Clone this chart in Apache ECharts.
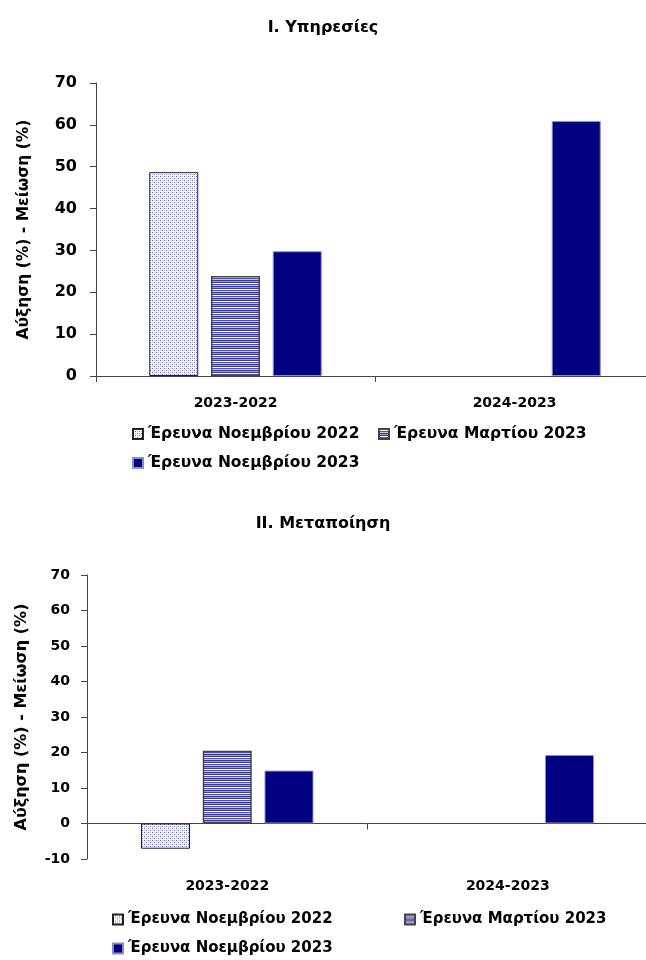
<!DOCTYPE html>
<html>
<head>
<meta charset="utf-8">
<title>Υπηρεσίες - Μεταποίηση</title>
<script src="https://cdn.jsdelivr.net/npm/echarts@6/dist/echarts.min.js"></script>
<style>
  html, body { margin: 0; padding: 0; background: #fff; }
  .chartBox { width: 646px; height: 480px; }
</style>
</head>
<body>
<div id="chart1" class="chartBox"></div>
<div id="chart2" class="chartBox"></div>
<script>
// data
var categories = ['2023-2022', '2024-2023'];
var seriesNames = ['Έρευνα Νοεμβρίου 2022', 'Έρευνα Μαρτίου 2023', 'Έρευνα Νοεμβρίου 2023'];
var yName = 'Αύξηση (%) - Μείωση (%)';

var titleServices = 'I. Υπηρεσίες';
var servNov22 = [48.7, null];
var servMar23 = [23.9, null];
var servNov23 = [29.8, 60.9];

var titleManuf = 'II. Μεταποίηση';
var manNov22 = [-7.1, null];
var manMar23 = [20.5, null];
var manNov23 = [14.9, 19.3];

var FONT = '"DejaVu Sans", sans-serif';

// fill patterns like the excel ones
function dotPattern() {
  var c = document.createElement('canvas');
  c.width = 4; c.height = 4;
  var g = c.getContext('2d');
  g.fillStyle = '#ffffff';
  g.fillRect(0, 0, 4, 4);
  g.fillStyle = '#6a6ac4';
  g.fillRect(0, 0, 1, 1);
  g.fillRect(2, 2, 1, 1);
  g.fillStyle = '#b4b4e0';
  g.fillRect(2, 0, 1, 1);
  g.fillRect(0, 2, 1, 1);
  return c;
}
function stripePattern() {
  var c = document.createElement('canvas');
  c.width = 4; c.height = 6;
  var g = c.getContext('2d');
  var rows = ['#3c3c98', '#ffffff', '#5050a8', '#c4c4e4', '#3c3c98', '#9a9ad0'];
  for (var i = 0; i < rows.length; i++) {
    g.fillStyle = rows[i];
    g.fillRect(0, i, 4, 1);
  }
  return c;
}
var fillDots = { image: dotPattern(), repeat: 'repeat' };
var fillStripes = { image: stripePattern(), repeat: 'repeat' };

function legendItem(name, left, top, size) {
  return {
    data: [name], left: left, top: top, padding: 0,
    itemWidth: 10, itemHeight: 10, itemGap: 4,
    icon: 'rect',
    textStyle: { fontFamily: FONT, fontWeight: 'bold', fontSize: size, color: '#000', padding: [0, 0, 0, 0] }
  };
}

function makeBars(vals1, vals2, vals3) {
  return [
    { name: seriesNames[0], type: 'bar', data: vals1, barWidth: 49, barGap: '26%',
      itemStyle: { color: fillDots, borderColor: '#222', borderWidth: 1 } },
    { name: seriesNames[1], type: 'bar', data: vals2, barWidth: 49, barGap: '26%',
      itemStyle: { color: fillStripes, borderColor: '#444', borderWidth: 1.5 } },
    { name: seriesNames[2], type: 'bar', data: vals3, barWidth: 49, barGap: '26%',
      itemStyle: { color: '#000080', borderColor: '#8c8cc8', borderWidth: 1 } }
  ];
}

function labelStyle(size, margin) {
  return { fontFamily: FONT, fontWeight: 'bold', fontSize: size, color: '#000', margin: margin };
}

// chart 1: services
var chart1 = echarts.init(document.getElementById('chart1'));
chart1.setOption({
  animation: false,
  title: { text: titleServices, left: 'center', top: 15,
    textStyle: { fontFamily: FONT, fontWeight: 'bold', fontSize: 16, color: '#000' } },
  grid: { left: 96, top: 83, width: 558, height: 293, outerBoundsMode: 'none' },
  legend: [
    legendItem(seriesNames[0], 132, 426, 15.5),
    legendItem(seriesNames[1], 378, 426, 15.5),
    legendItem(seriesNames[2], 132, 455, 15.5)
  ],
  xAxis: {
    type: 'category', data: categories,
    axisLine: { lineStyle: { color: '#444', width: 1 } },
    axisTick: { show: true, length: 6, lineStyle: { color: '#444' } },
    axisLabel: labelStyle(14, 20)
  },
  yAxis: {
    type: 'value', min: 0, max: 70, interval: 10,
    name: yName, nameLocation: 'middle', nameGap: 64, nameRotate: 90,
    nameTextStyle: { fontFamily: FONT, fontWeight: 'bold', fontSize: 15.5, color: '#000' },
    axisLine: { show: true, lineStyle: { color: '#444', width: 1 } },
    axisTick: { show: true, length: 6, lineStyle: { color: '#444' } },
    splitLine: { show: false },
    axisLabel: labelStyle(16, 19)
  },
  series: makeBars(servNov22, servMar23, servNov23)
});

// chart 2: manufacturing
var chart2 = echarts.init(document.getElementById('chart2'));
chart2.setOption({
  animation: false,
  title: { text: titleManuf, left: 'center', top: 31,
    textStyle: { fontFamily: FONT, fontWeight: 'bold', fontSize: 16, color: '#000' } },
  grid: { left: 87, top: 95, width: 561, height: 284, outerBoundsMode: 'none' },
  legend: [
    legendItem(seriesNames[0], 112, 432, 15),
    legendItem(seriesNames[1], 404, 432, 15),
    legendItem(seriesNames[2], 112, 461, 15)
  ],
  xAxis: [
    { type: 'category', data: categories,
      axisLine: { onZero: true, lineStyle: { color: '#444', width: 1 } },
      axisTick: { show: true, length: 6, lineStyle: { color: '#444' } },
      axisLabel: { show: false } },
    { type: 'category', data: categories, position: 'bottom',
      axisLine: { show: false, onZero: false },
      axisTick: { show: false },
      axisLabel: labelStyle(14, 20) }
  ],
  yAxis: {
    type: 'value', min: -10, max: 70, interval: 10,
    name: yName, nameLocation: 'middle', nameGap: 57, nameRotate: 90,
    nameTextStyle: { fontFamily: FONT, fontWeight: 'bold', fontSize: 16, color: '#000' },
    axisLine: { show: true, lineStyle: { color: '#444', width: 1 } },
    axisTick: { show: true, length: 6, lineStyle: { color: '#444' } },
    splitLine: { show: false },
    axisLabel: labelStyle(14, 17)
  },
  series: makeBars(manNov22, manMar23, manNov23)
});
</script>
</body>
</html>
